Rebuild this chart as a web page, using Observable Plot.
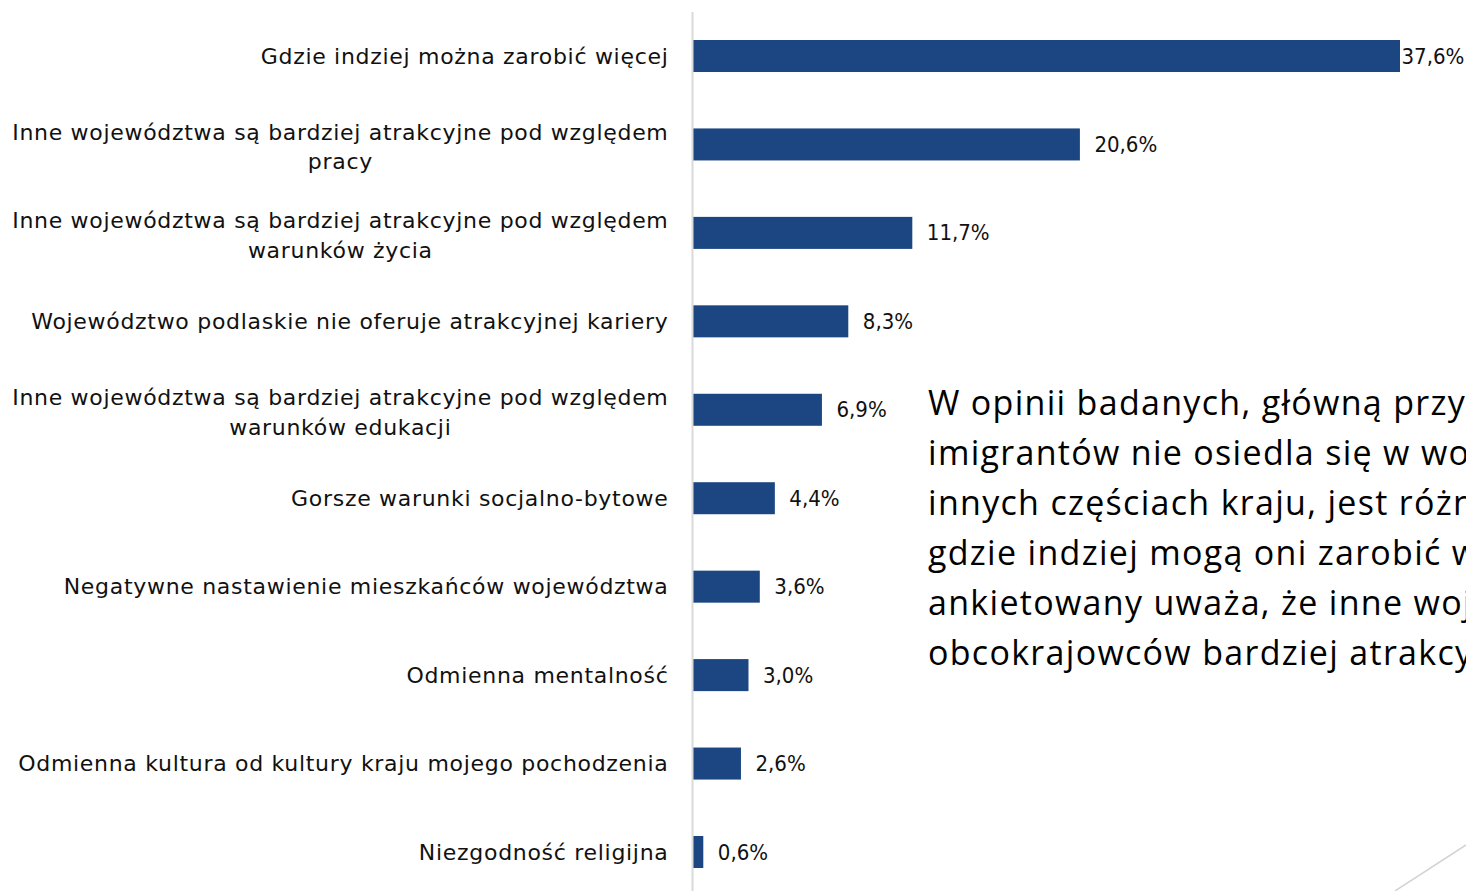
<!DOCTYPE html>
<html><head><meta charset="utf-8">
<script src="https://cdn.jsdelivr.net/npm/d3@7"></script>
<script src="https://cdn.jsdelivr.net/npm/@observablehq/plot@0.6"></script>
<style>
html,body{margin:0;padding:0;background:#fff;}
body{overflow:hidden;width:1466px;height:891px;position:relative;}
#chart{position:absolute;left:0;top:0;}
#chart svg{letter-spacing:0.7px;}
#chart g[font-family^="DejaVu Sans Condensed"]{letter-spacing:0;}
#note{position:absolute;left:928px;top:377px;width:538px;overflow:hidden;font-family:"Open Sans",Lato,sans-serif;font-size:34px;letter-spacing:1.3px;line-height:50px;white-space:nowrap;color:#000;}
#deco{position:absolute;left:1380px;top:830px;}
</style></head><body>
<div id="chart"></div>
<div id="note">W opinii badanych, główną przyczyną, dla której<br>imigrantów nie osiedla się w województwie<br>innych częściach kraju, jest różnica w zarobkach<br>gdzie indziej mogą oni zarobić więcej<br>ankietowany uważa, że inne województwa są dla<br>obcokrajowców bardziej atrakcyjne</div>
<svg id="deco" width="86" height="61"><line x1="15" y1="61" x2="86" y2="15" stroke="#d4d4d4" stroke-width="1.5"/></svg>
<script>
const categories = [
  "Gdzie indziej można zarobić więcej",
  "Inne województwa są bardziej atrakcyjne pod względem\npracy",
  "Inne województwa są bardziej atrakcyjne pod względem\nwarunków życia",
  "Województwo podlaskie nie oferuje atrakcyjnej kariery",
  "Inne województwa są bardziej atrakcyjne pod względem\nwarunków edukacji",
  "Gorsze warunki socjalno-bytowe",
  "Negatywne nastawienie mieszkańców województwa",
  "Odmienna mentalność",
  "Odmienna kultura od kultury kraju mojego pochodzenia",
  "Niezgodność religijna"
];
const values = [37.6, 20.6, 11.7, 8.3, 6.9, 4.4, 3.6, 3.0, 2.6, 0.6];

const data = categories.map((c, i) => ({category: c, value: values[i]}));
const labelFont = "DejaVu Sans, sans-serif";
const valueFont = "DejaVu Sans Condensed, DejaVu Sans, sans-serif";
const fontSize = 22;
const spacing = 0.7;
const fmt = v => d3.format(".1f")(v).replace(".", ",") + "%";

const ctx = document.createElement("canvas").getContext("2d");
ctx.font = `${fontSize}px "DejaVu Sans"`;
const measure = s => ctx.measureText(s).width + spacing * s.length;

const single = data.filter(d => !d.category.includes("\n"));
const multi = data.filter(d => d.category.includes("\n"));
const maxV = d3.max(values);

const multiMarks = multi.map(d => {
  const w = d3.max(d.category.split("\n"), measure);
  return Plot.text([d], {x: () => 0, y: "category", text: "category", textAnchor: "middle", dx: -24 - w / 2, lineHeight: 1.36, fill: "#111", fontFamily: labelFont, fontSize});
});

const chart = Plot.plot({
  width: 1466,
  height: 891,
  marginLeft: 692,
  marginRight: 66,
  marginTop: 17,
  marginBottom: 0,
  x: {domain: [0, maxV], axis: null},
  y: {domain: categories, axis: null, paddingInner: 0.638, paddingOuter: 0.26, round: false},
  style: {fontFamily: labelFont, fontSize: fontSize + "px", color: "#111", background: "transparent", overflow: "visible"},
  marks: [
    Plot.barX(data, {x: "value", y: "category", fill: "#1b4682"}),
    Plot.ruleX([0], {stroke: "#dadada", strokeWidth: 2, insetTop: -5}),
    Plot.text(single, {x: () => 0, y: "category", text: "category", textAnchor: "end", dx: -24, fill: "#111", fontFamily: labelFont, fontSize}),
    ...multiMarks,
    Plot.text(data.filter(d => d.value !== maxV), {x: "value", y: "category", text: d => fmt(d.value), textAnchor: "start", dx: 14, fill: "#111", fontFamily: valueFont, fontSize}),
    Plot.text(data.filter(d => d.value === maxV), {x: "value", y: "category", text: d => fmt(d.value), textAnchor: "start", dx: 1, fill: "#111", fontFamily: valueFont, fontSize})
  ]
});
document.getElementById("chart").appendChild(chart);
</script>
</body></html>
